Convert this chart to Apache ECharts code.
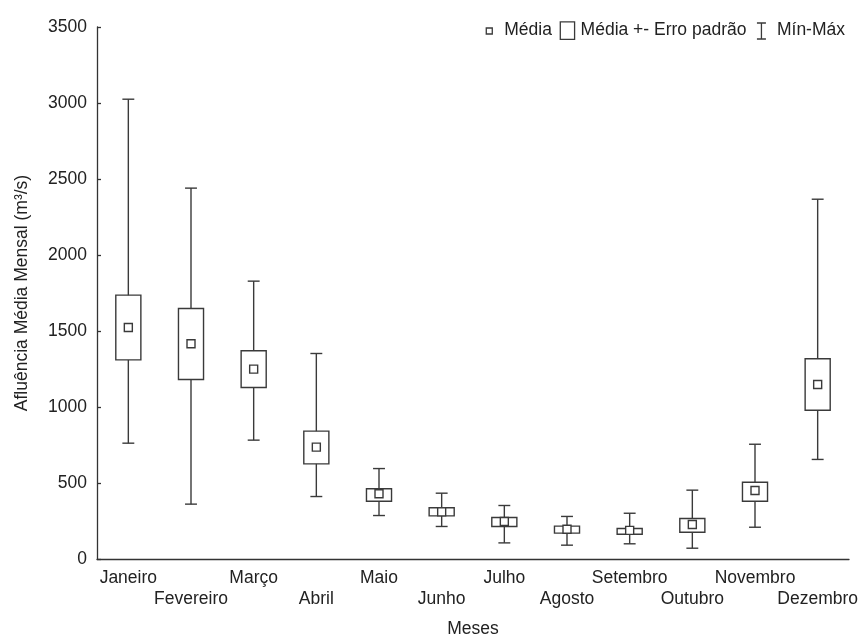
<!DOCTYPE html>
<html>
<head>
<meta charset="utf-8">
<script src="https://cdn.jsdelivr.net/npm/echarts@6/dist/echarts.min.js"></script>
<style>html,body{margin:0;padding:0;background:#fff}#c{width:859px;height:636px}</style>
</head>
<body>
<div id="c"></div>
<script>
const months = ['Janeiro','Fevereiro','Março','Abril','Maio','Junho','Julho','Agosto','Setembro','Outubro','Novembro','Dezembro'];
const minVals  = [762, 361, 782, 411, 286, 214, 106,  91, 100,  71, 209,  655];
const seLow    = [1310,1181,1128, 626, 380, 284, 214, 170, 163, 176, 380,  979];
const meanVals = [1523,1416,1249, 736, 429, 310, 247, 196, 188, 227, 451, 1148];
const seHigh   = [1736,1648,1370, 841, 462, 337, 273, 216, 201, 266, 505, 1317];
const maxVals  = [3025,2440,1828,1352, 595, 433, 352, 280, 301, 453, 755, 2367];
const yTicks = [0, 500, 1000, 1500, 2000, 2500, 3000, 3500];

const FONT = '"Liberation Sans", Arial, sans-serif';
const TXT = '#222';
const LINE = '#3a3a3a';
const LW = 1.4;

const chart = echarts.init(document.getElementById('c'));

function renderWhisker(params, api) {
  const i = api.value(0);
  const pMin = api.coord([i, api.value(1)]);
  const pMax = api.coord([i, api.value(2)]);
  const band = api.size([1, 0])[0];
  const cw = band * 0.19;
  const st = {stroke: LINE, lineWidth: LW, fill: null};
  return {type: 'group', children: [
    {type: 'line', shape: {x1: pMax[0], y1: pMax[1], x2: pMin[0], y2: pMin[1]}, style: st},
    {type: 'line', shape: {x1: pMax[0] - cw / 2, y1: pMax[1], x2: pMax[0] + cw / 2, y2: pMax[1]}, style: st},
    {type: 'line', shape: {x1: pMin[0] - cw / 2, y1: pMin[1], x2: pMin[0] + cw / 2, y2: pMin[1]}, style: st}
  ]};
}

function renderBox(params, api) {
  const i = api.value(0);
  const pLo = api.coord([i, api.value(1)]);
  const pHi = api.coord([i, api.value(2)]);
  const band = api.size([1, 0])[0];
  const w = band * 0.4;
  return {type: 'rect', shape: {x: pLo[0] - w / 2, y: pHi[1], width: w, height: pLo[1] - pHi[1]},
    style: {fill: '#fff', stroke: LINE, lineWidth: LW}};
}

const option = {
  animation: false,
  backgroundColor: '#fff',
  textStyle: {fontFamily: FONT, color: TXT},
  grid: {left: 97, right: 10, top: 27, bottom: 77, containLabel: false, outerBoundsMode: 'none'},
  legend: {
    right: 9, top: 14, itemWidth: 16, itemHeight: 18, itemGap: 7,
    selectedMode: false,
    textStyle: {fontSize: 17.5, color: TXT, fontFamily: FONT},
    data: [
      {name: 'Média', icon: 'path://M0,0M16,18M3,6.5h6v6h-6z', itemStyle: {color: '#fff', borderColor: LINE, borderWidth: 1.3}},
      {name: 'Média +- Erro padrão', icon: 'path://M0,0M16,18M0.7,0.4h14.3v17.4h-14.3z', itemStyle: {color: '#fff', borderColor: LINE, borderWidth: 1.3}},
      {name: 'Mín-Máx', icon: 'path://M0,0M16,18M1,1.5h9M5.5,1.5v16M1,17.5h9', itemStyle: {color: 'none', borderColor: LINE, borderWidth: 1.3}}
    ]
  },
  xAxis: {
    type: 'category',
    data: months,
    boundaryGap: true,
    name: 'Meses',
    nameLocation: 'middle',
    nameGap: 61,
    nameTextStyle: {fontSize: 17.5, color: TXT, fontFamily: FONT},
    axisLine: {lineStyle: {color: '#333', width: 1.3}},
    axisTick: {inside: true, length: 4, alignWithLabel: true, lineStyle: {color: '#333', width: 1.3}},
    axisLabel: {
      interval: 0, margin: 9, fontSize: 17.5, color: TXT, fontFamily: FONT, lineHeight: 21,
      formatter: (v, idx) => (idx % 2 === 1 ? '\n' + v : v)
    },
    splitLine: {show: false}
  },
  yAxis: {
    type: 'value',
    min: yTicks[0], max: yTicks[yTicks.length - 1], interval: yTicks[1] - yTicks[0],
    name: 'Afluência Média Mensal (m³/s)',
    nameLocation: 'middle',
    nameGap: 66,
    nameTextStyle: {fontSize: 17.5, color: TXT, fontFamily: FONT},
    axisLine: {show: true, lineStyle: {color: '#333', width: 1.3}},
    axisTick: {show: true, inside: true, length: 4, lineStyle: {color: '#333', width: 1.3}},
    axisLabel: {margin: 10, fontSize: 17.5, color: TXT, fontFamily: FONT, formatter: v => String(v)},
    splitLine: {show: false}
  },
  series: [
    {
      name: 'Mín-Máx', type: 'custom', z: 2,
      renderItem: renderWhisker,
      encode: {x: 0, y: [1, 2]},
      data: months.map((m, i) => [i, minVals[i], maxVals[i]])
    },
    {
      name: 'Média +- Erro padrão', type: 'custom', z: 3,
      renderItem: renderBox,
      encode: {x: 0, y: [1, 2]},
      data: months.map((m, i) => [i, seLow[i], seHigh[i]])
    },
    {
      name: 'Média', type: 'scatter', z: 4,
      symbol: 'rect', symbolSize: 8,
      itemStyle: {color: '#fff', borderColor: LINE, borderWidth: 1.4, opacity: 1},
      data: months.map((m, i) => [i, meanVals[i]])
    }
  ]
};
chart.setOption(option);
</script>
</body>
</html>
